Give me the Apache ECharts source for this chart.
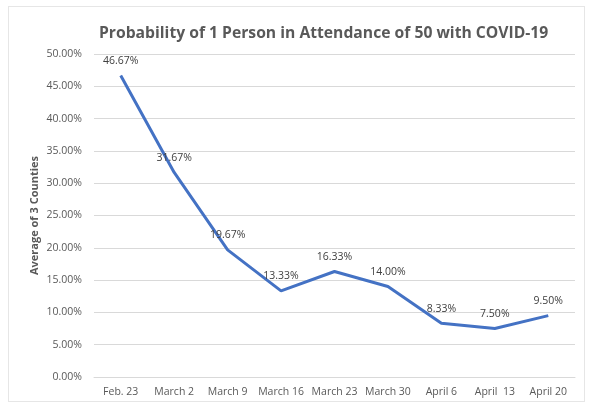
<!DOCTYPE html>
<html><head><meta charset="utf-8">
<script src="https://cdn.jsdelivr.net/npm/echarts@6/dist/echarts.min.js"></script>
<style>html,body{margin:0;padding:0;background:#fff}#c{width:593px;height:405px}
#frame{position:absolute;left:8px;top:6px;width:577px;height:396px;border:1px solid #e6e6e6;box-sizing:border-box;pointer-events:none}</style>
</head><body><div id="c"></div><div id="frame"></div>
<script>
const categories = ["Feb. 23","March 2","March 9","March 16","March 23","March 30","April 6","April  13","April 20"];
const values = [46.67,31.67,19.67,13.33,16.33,14.00,8.33,7.50,9.50];
const titleText = "Probability of 1 Person in Attendance of 50 with COVID-19";
const yAxisName = "Average of 3 Counties";
const chart = echarts.init(document.getElementById('c'));
chart.setOption({
  animation:false,
  title:{text:titleText,left:94,top:21,textStyle:{fontFamily:'Open Sans',fontWeight:'bold',fontSize:15.7,color:'#595959'}},
  grid:{left:94,right:18,top:54,bottom:28},
  xAxis:{type:'category',data:categories,boundaryGap:true,
    axisLine:{lineStyle:{color:'#d9d9d9'}},axisTick:{show:false},
    axisLabel:{color:'#595959',fontFamily:'Open Sans',fontSize:10.5,margin:10,interval:0}},
  yAxis:{type:'value',min:0,max:50,interval:5,name:yAxisName,nameLocation:'middle',nameGap:54,nameMoveOverlap:false,
    nameTextStyle:{color:'#595959',fontFamily:'Open Sans',fontWeight:'bold',fontSize:11},
    axisLine:{show:false},axisTick:{show:false},
    splitLine:{lineStyle:{color:'#d9d9d9'}},
    axisLabel:{color:'#595959',fontFamily:'Open Sans',fontSize:10.5,margin:12,formatter:v=>v.toFixed(2)+'%'}},
  series:[{type:'line',data:values,symbol:'circle',symbolSize:0.1,showSymbol:true,
    itemStyle:{color:'#4472C4'},lineStyle:{color:'#4472C4',width:3},
    label:{show:true,position:'top',distance:9,color:'#404040',fontFamily:'Open Sans',fontSize:10.5,formatter:p=>p.value.toFixed(2)+'%'}}]
});
</script></body></html>
